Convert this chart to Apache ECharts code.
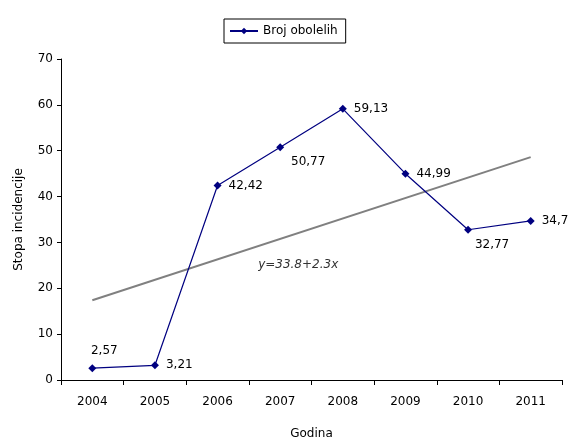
<!DOCTYPE html>
<html>
<head>
<meta charset="utf-8">
<script src="https://cdn.jsdelivr.net/npm/echarts@6/dist/echarts.min.js"></script>
<style>
  html, body { margin: 0; padding: 0; background: #fff; }
  #chart { width: 569px; height: 445px; }
</style>
</head>
<body>
<div id="chart"></div>
<script>
// Incidence rate by year
const years = ['2004', '2005', '2006', '2007', '2008', '2009', '2010', '2011'];
const cases = [2.57, 3.21, 42.42, 50.77, 59.13, 44.99, 32.77, 34.7];
const caseLabels = ['2,57', '3,21', '42,42', '50,77', '59,13', '44,99', '32,77', '34,7'];
// Linear trend end points (2004 and 2011)
const trendEnds = [17.4, 48.6];
const trendText = 'y=33.8+2.3x';
const yTicks = [0, 10, 20, 30, 40, 50, 60, 70];

const font = 'Tahoma, "DejaVu Sans", sans-serif';

// label placement per point: offsets relative to the marker
const labelPos = [
  { position: 'top', offset: [12, -2] },
  { position: 'right', offset: [2, 0] },
  { position: 'right', offset: [2, 0] },
  { position: 'bottom', offset: [28, 0] },
  { position: 'right', offset: [2, 0] },
  { position: 'right', offset: [2, 0] },
  { position: 'bottom', offset: [24, 0] },
  { position: 'right', offset: [2, 0] }
];

const trendData = years.map((_, i) =>
  i === 0 ? trendEnds[0] : (i === years.length - 1 ? trendEnds[1] : null));

const chart = echarts.init(document.getElementById('chart'), null, { renderer: 'canvas' });
chart.setOption({
  animation: false,
  backgroundColor: '#fff',
  textStyle: { fontFamily: font },
  grid: { left: 61, right: 7, top: 59, bottom: 61 },
  legend: {
    data: ['Broj obolelih'],
    left: 224, top: 19,
    padding: [6, 8, 6, 5],
    borderColor: '#000', borderWidth: 1, borderRadius: 0,
    itemWidth: 28, itemHeight: 8, itemGap: 4,
    textStyle: { fontFamily: font, fontSize: 12, color: '#000', padding: [1, 0, 0, 0] }
  },
  xAxis: {
    type: 'category',
    data: years,
    boundaryGap: true,
    name: 'Godina',
    nameLocation: 'middle',
    nameGap: 48,
    nameTextStyle: { fontFamily: font, fontSize: 12, color: '#000' },
    axisLine: { lineStyle: { color: '#000', width: 1 } },
    axisTick: { show: true, length: 5, lineStyle: { color: '#000' } },
    axisLabel: { color: '#000', fontSize: 12, fontFamily: font, margin: 16 },
    splitLine: { show: false }
  },
  yAxis: {
    type: 'value',
    min: yTicks[0], max: yTicks[yTicks.length - 1], interval: 10,
    name: 'Stopa incidencije',
    nameLocation: 'middle',
    nameGap: 36,
    nameRotate: 90,
    nameTextStyle: { fontFamily: font, fontSize: 12, color: '#000' },
    axisLine: { show: true, lineStyle: { color: '#000', width: 1 } },
    axisTick: { show: true, length: 4, lineStyle: { color: '#000' } },
    axisLabel: { color: '#000', fontSize: 12, fontFamily: font, margin: 8 },
    splitLine: { show: false }
  },
  series: [
    {
      name: 'Broj obolelih',
      type: 'line',
      data: cases.map((v, i) => ({
        value: v,
        label: {
          show: true,
          position: labelPos[i].position,
          offset: labelPos[i].offset,
          formatter: caseLabels[i],
          color: '#000', fontSize: 12, fontFamily: font
        }
      })),
      symbol: 'diamond',
      symbolSize: 8,
      showAllSymbol: true,
      itemStyle: { color: '#000080' },
      lineStyle: { color: '#000080', width: 1.2 },
      z: 3
    },
    {
      name: 'trend',
      type: 'line',
      data: trendData,
      connectNulls: true,
      symbol: 'none',
      lineStyle: { color: '#808080', width: 2 },
      z: 2,
      markPoint: {
        symbol: 'circle', symbolSize: 0,
        data: [{ coord: ['2007', 25] }],
        label: {
          show: true, formatter: trendText, offset: [18, 0],
          fontStyle: 'italic', fontSize: 12, fontFamily: font, color: '#333'
        }
      }
    }
  ]
});
</script>
</body>
</html>
